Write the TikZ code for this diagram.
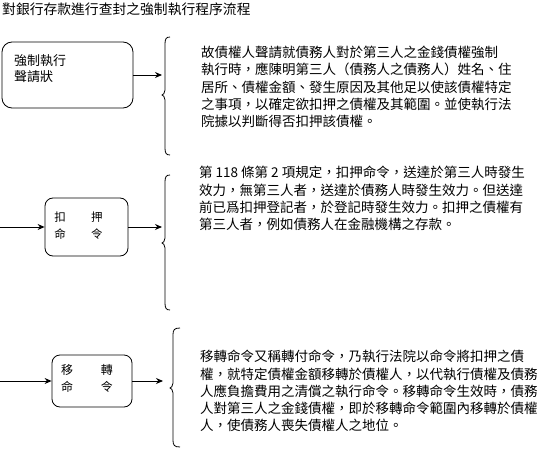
\documentclass[tikz,border=0pt]{standalone}
\usepackage{fontspec}
\setmainfont{Noto Sans CJK TC}
\usetikzlibrary{arrows.meta}
\newcommand\drawbrace[6]{% #1 line x, #2 cusp x, #3 curl x, #4 top, #5 mid, #6 bottom
  \draw[bracestyle] (#3,#4) .. controls (#1+1,#4) and (#1,#4+2) .. (#1,#4+7)
    -- (#1,#5-5) .. controls (#1,#5-2) and (#2+1,#5) .. (#2,#5)
    .. controls (#2+1,#5) and (#1,#5+2) .. (#1,#5+5)
    -- (#1,#6-7) .. controls (#1,#6-2) and (#1+1,#6) .. (#3,#6);}
\begin{document}
\begin{tikzpicture}[x=1pt,y=-1pt,
  box/.style={draw, line width=0.8pt, inner sep=0pt},
  para/.style={anchor=north west, align=left, inner sep=0pt, font=\fontsize{13.5}{17.3}\selectfont},
  boxtext/.style={align=left, inner sep=0pt},
  arr/.style={-{Stealth[length=7pt,width=6pt]}, line width=1pt},
  bracestyle/.style={line width=0.8pt}]
\useasboundingbox (0,0) rectangle (550,458);
\fill[white] (0,0) rectangle (550,458);

\node[anchor=west, inner sep=0pt, font=\fontsize{13.8}{16}\selectfont] (title) at (2,9) {對銀行存款進行查封之強制執行程序流程};

% boxes
\node[box, rounded corners=10pt, minimum width=131pt, minimum height=66pt] (b1) at (67.5,75) {};
\node[box, rounded corners=8pt, minimum width=83pt, minimum height=58pt] (b2) at (86.5,227) {};
\node[box, rounded corners=8pt, minimum width=80pt, minimum height=52pt] (b3) at (92,381) {};

\node[boxtext, anchor=west, font=\fontsize{13}{16}\selectfont] (t1) at (14,69) {強制執行\\聲請狀};
\node[boxtext, font=\fontsize{11.5}{17}\selectfont] (t2) at (78.5,226) {扣\hspace{25.5pt}押\\命\hspace{25.5pt}令};
\node[boxtext, font=\fontsize{12}{17}\selectfont] (t3) at (87,378.5) {移\hspace{28pt}轉\\命\hspace{28pt}令};

% braces
\drawbrace{165}{162}{170}{37}{95}{155}
\drawbrace{165}{162}{170}{175}{243}{310}
\drawbrace{173}{170}{180}{328}{388}{447}

% connector ends
\coordinate (e1) at (162,75);
\coordinate (e2) at (162,227);
\coordinate (e3) at (163,381);
\coordinate (s2) at (0,227);
\coordinate (s3) at (0,381);

\draw[arr] (b1) -- (e1);
\draw[arr] (s2) -- (b2);
\draw[arr] (b2) -- (e2);
\draw[arr] (s3) -- (b3);
\draw[arr] (b3) -- (e3);

% paragraphs
\node[para] (p1) at (201,46) {故債權人聲請就債務人對於第三人之金錢債權強制\\執行時，應陳明第三人（債務人之債務人）姓名、住\\居所、債權金額、發生原因及其他足以使該債權特定\\之事項，以確定欲扣押之債權及其範圍。並使執行法\\院據以判斷得否扣押該債權。};
\node[para] (p2) at (199,166) {第 118 條第 2 項規定，扣押命令，送達於第三人時發生\\效力，無第三人者，送達於債務人時發生效力。但送達\\前已爲扣押登記者，於登記時發生效力。扣押之債權有\\第三人者，例如債務人在金融機構之存款。};
\node[para] (p3) at (200,350) {移轉命令又稱轉付命令，乃執行法院以命令將扣押之債\\權，就特定債權金額移轉於債權人，以代執行債權及債務\\人應負擔費用之清償之執行命令。移轉命令生效時，債務\\人對第三人之金錢債權，即於移轉命令範圍內移轉於債權\\人，使債務人喪失債權人之地位。};
\end{tikzpicture}
\end{document}
